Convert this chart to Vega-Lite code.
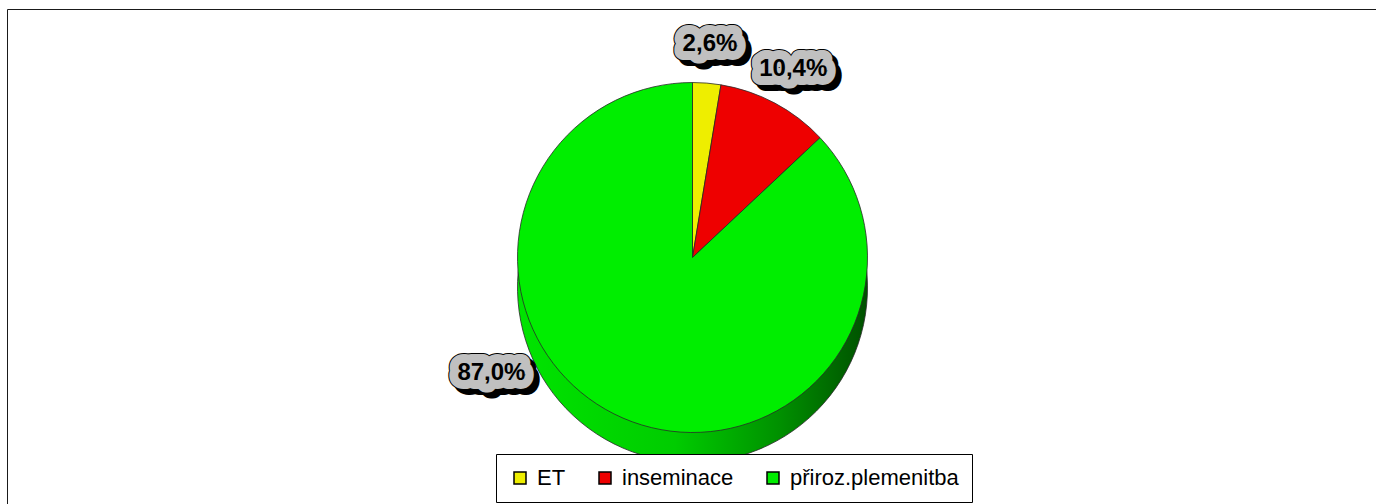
{
  "$schema": "https://vega.github.io/schema/vega-lite/v6.json",
  "width": 1371,
  "height": 497,
  "autosize": {"type": "none"},
  "padding": {"left": 7, "top": 9, "right": -2, "bottom": -2},
  "background": "white",
  "view": {"stroke": "#1a1a1a", "strokeWidth": 1},
  "config": {
    "view": {"stroke": "#1a1a1a", "strokeWidth": 1},
    "locale": {"number": {"decimal": ",", "thousands": " ", "grouping": [3], "currency": ["", " Kč"]}},
    "font": "Liberation Sans"
  },
  "data": {
    "values": [
      {"kategorie": "ET", "podil": 0.026, "poradi": 1},
      {"kategorie": "inseminace", "podil": 0.104, "poradi": 2},
      {"kategorie": "přiroz.plemenitba", "podil": 0.87, "poradi": 3}
    ]
  },
  "encoding": {
    "theta": {"field": "podil", "type": "quantitative", "stack": true},
    "order": {"field": "poradi", "type": "quantitative"}
  },
  "layer": [
    {
      "mark": {
        "type": "arc",
        "radius": 175,
        "yOffset": 30,
        "fill": {
          "gradient": "linear",
          "x1": 0, "y1": 0, "x2": 1, "y2": 0,
          "stops": [
            {"offset": 0, "color": "#00e400"},
            {"offset": 0.45, "color": "#00cc00"},
            {"offset": 0.75, "color": "#009000"},
            {"offset": 1, "color": "#005000"}
          ]
        },
        "stroke": "#2a2a2a",
        "strokeWidth": 0.8
      }
    },
    {
      "mark": {"type": "arc", "radius": 175, "stroke": "#2a2a2a", "strokeWidth": 0.8},
      "encoding": {
        "color": {
          "field": "kategorie",
          "type": "nominal",
          "scale": {
            "domain": ["ET", "inseminace", "přiroz.plemenitba"],
            "range": ["#eeee00", "#ee0000", "#00ee00"]
          },
          "legend": {
            "orient": "none",
            "legendX": 489,
            "legendY": 445,
            "direction": "horizontal",
            "title": null,
            "symbolType": "square",
            "symbolSize": 144,
            "symbolStrokeColor": "black",
            "symbolStrokeWidth": 1.5,
            "labelFontSize": 22,
            "labelFont": "Liberation Sans",
            "labelColor": "black",
            "labelOffset": 6,
            "labelLimit": 300,
            "columnPadding": 28,
            "padding": 13,
            "fillColor": "white",
            "strokeColor": "black"
          }
        }
      }
    },
    {
      "transform": [{"filter": "datum.poradi < 3"}],
      "mark": {"type": "text", "radius": 214, "dx": 5, "dy": 5, "align": "center", "baseline": "middle", "fontSize": 24, "fontWeight": "bold", "font": "Liberation Sans", "fill": "black", "stroke": "black", "strokeWidth": 20, "strokeJoin": "round"},
      "encoding": {"text": {"field": "podil", "type": "quantitative", "format": ".1%"}}
    },
    {
      "transform": [{"filter": "datum.poradi < 3"}],
      "mark": {"type": "text", "radius": 214, "align": "center", "baseline": "middle", "fontSize": 24, "fontWeight": "bold", "font": "Liberation Sans", "fill": "black", "stroke": "black", "strokeWidth": 20, "strokeJoin": "round"},
      "encoding": {"text": {"field": "podil", "type": "quantitative", "format": ".1%"}}
    },
    {
      "transform": [{"filter": "datum.poradi < 3"}],
      "mark": {"type": "text", "radius": 214, "align": "center", "baseline": "middle", "fontSize": 24, "fontWeight": "bold", "font": "Liberation Sans", "fill": "#c0c0c0", "stroke": "#c0c0c0", "strokeWidth": 18, "strokeJoin": "round"},
      "encoding": {"text": {"field": "podil", "type": "quantitative", "format": ".1%"}}
    },
    {
      "transform": [{"filter": "datum.poradi < 3"}],
      "mark": {"type": "text", "radius": 214, "align": "center", "baseline": "middle", "fontSize": 24, "fontWeight": "bold", "font": "Liberation Sans", "fill": "black"},
      "encoding": {"text": {"field": "podil", "type": "quantitative", "format": ".1%"}}
    },
    {
      "mark": {"type": "text", "radius": 232, "thetaOffset": 0.64, "dx": 5, "dy": 5, "align": "center", "baseline": "middle", "fontSize": 24, "fontWeight": "bold", "font": "Liberation Sans", "fill": "black", "stroke": "black", "strokeWidth": 20, "strokeJoin": "round"},
      "encoding": {
        "text": {"field": "podil", "type": "quantitative", "format": ".1%"},
        "opacity": {"condition": {"test": "datum.poradi == 3", "value": 1}, "value": 0}
      }
    },
    {
      "mark": {"type": "text", "radius": 232, "thetaOffset": 0.64, "align": "center", "baseline": "middle", "fontSize": 24, "fontWeight": "bold", "font": "Liberation Sans", "fill": "black", "stroke": "black", "strokeWidth": 20, "strokeJoin": "round"},
      "encoding": {
        "text": {"field": "podil", "type": "quantitative", "format": ".1%"},
        "opacity": {"condition": {"test": "datum.poradi == 3", "value": 1}, "value": 0}
      }
    },
    {
      "mark": {"type": "text", "radius": 232, "thetaOffset": 0.64, "align": "center", "baseline": "middle", "fontSize": 24, "fontWeight": "bold", "font": "Liberation Sans", "fill": "#c0c0c0", "stroke": "#c0c0c0", "strokeWidth": 18, "strokeJoin": "round"},
      "encoding": {
        "text": {"field": "podil", "type": "quantitative", "format": ".1%"},
        "opacity": {"condition": {"test": "datum.poradi == 3", "value": 1}, "value": 0}
      }
    },
    {
      "mark": {"type": "text", "radius": 232, "thetaOffset": 0.64, "align": "center", "baseline": "middle", "fontSize": 24, "fontWeight": "bold", "font": "Liberation Sans", "fill": "black"},
      "encoding": {
        "text": {"field": "podil", "type": "quantitative", "format": ".1%"},
        "opacity": {"condition": {"test": "datum.poradi == 3", "value": 1}, "value": 0}
      }
    }
  ]
}
